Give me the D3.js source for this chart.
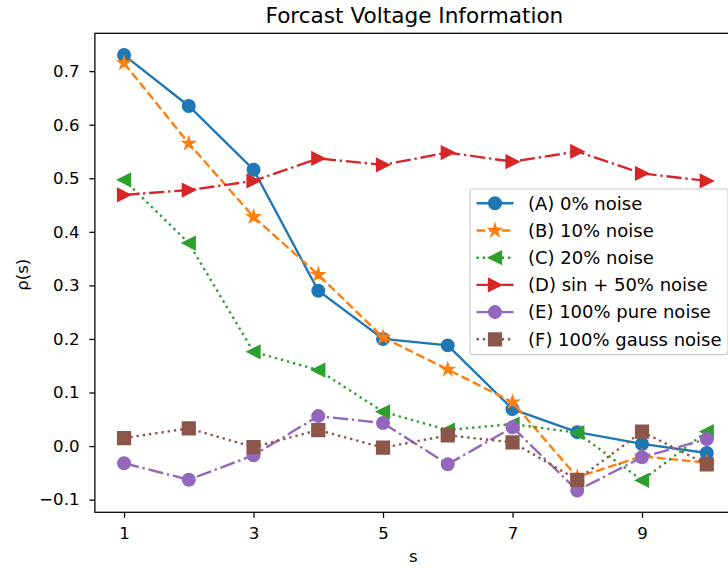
<!DOCTYPE html>
<html>
<head>
<meta charset="utf-8">
<script src="https://cdn.jsdelivr.net/npm/d3@7"></script>
<style>
  body { margin: 0; background: #fff; }
  text { font-family: "DejaVu Sans", sans-serif; fill: #000; }
</style>
</head>
<body>
<svg id="chart" width="728" height="568"></svg>
<script>
// values
const steps = [1, 2, 3, 4, 5, 6, 7, 8, 9, 10];
const noise0 = [0.730, 0.635, 0.516, 0.290, 0.200, 0.188, 0.069, 0.026, 0.004, -0.013];
const noise10 = [0.715, 0.565, 0.428, 0.320, 0.203, 0.143, 0.082, -0.058, -0.019, -0.031];
const noise20 = [0.497, 0.379, 0.176, 0.142, 0.064, 0.030, 0.041, 0.025, -0.064, 0.027];
const sinNoise50 = [0.469, 0.478, 0.495, 0.537, 0.525, 0.548, 0.531, 0.550, 0.509, 0.495];
const pureNoise = [-0.032, -0.063, -0.017, 0.056, 0.043, -0.034, 0.035, -0.083, -0.021, 0.013];
const gaussNoise = [0.015, 0.033, -0.002, 0.030, -0.003, 0.020, 0.007, -0.063, 0.027, -0.034];
const labels = ["(A) 0% noise", "(B) 10% noise", "(C) 20% noise",
                "(D) sin + 50% noise", "(E) 100% pure noise", "(F) 100% gauss noise"];
const xTicks = [1, 3, 5, 7, 9];
const yTicks = [-0.1, 0, 0.1, 0.2, 0.3, 0.4, 0.5, 0.6, 0.7];

const svg = d3.select("#chart");
const pt = 1.583; // px per point
const tickFont = 16.6, legendFont = 18, titleFont = 21.6;

// axes box (right side runs off the picture like the original)
const box = {left: 94.9, top: 33.3, bottom: 512.3, right: 735.9};

const series = [
  {vals: noise0, color: "#1f77b4", dash: null, marker: "circle"},
  {vals: noise10, color: "#ff7f0e", dash: [5.55, 2.4], marker: "star"},
  {vals: noise20, color: "#2ca02c", dash: [1.5, 2.475], marker: "tleft"},
  {vals: sinNoise50, color: "#d62728", dash: [9.6, 2.4, 1.5, 2.4], marker: "tright"},
  {vals: pureNoise, color: "#9467bd", dash: [9.6, 2.4, 1.5, 2.4], marker: "circle"},
  {vals: gaussNoise, color: "#8c564b", dash: [1.5, 2.475], marker: "square"}
];

const xScale = d3.scaleLinear()
  .domain([0.55, 10.45])
  .range([box.left, box.right]);

const allVals = series.flatMap(s => s.vals);
const [lo, hi] = d3.extent(allVals);
const padY = (hi - lo) * 0.05;
const yScale = d3.scaleLinear()
  .domain([lo - padY, hi + padY])
  .range([box.bottom, box.top]);

const ms = 8 * pt;
const markerPath = m => {
  const s = ms / 2;
  if (m === "circle") return d3.symbol(d3.symbolCircle, Math.PI * (s * 0.98) ** 2)();
  if (m === "square") return `M${-s},${-s}H${s}V${s}H${-s}Z`;
  if (m === "tleft") return `M${-s},0L${s},${-s}L${s},${s}Z`;
  if (m === "tright") return `M${s},0L${-s},${-s}L${-s},${s}Z`;
  if (m === "star") {
    const pts = [];
    for (let i = 0; i < 10; i++) {
      const r = i % 2 === 0 ? s : s * 0.381966;
      const a = -Math.PI / 2 + i * Math.PI / 5;
      pts.push([r * Math.cos(a), r * Math.sin(a)]);
    }
    return "M" + pts.map(p => p.join(",")).join("L") + "Z";
  }
};

svg.append("clipPath").attr("id", "plotclip")
  .append("rect").attr("x", box.left).attr("y", box.top)
  .attr("width", box.right - box.left).attr("height", box.bottom - box.top);

const plot = svg.append("g").attr("clip-path", "url(#plotclip)");
const line = d3.line().x((d, i) => xScale(steps[i])).y(d => yScale(d));

series.forEach(s => {
  const g = plot.append("g");
  g.append("path")
    .attr("d", line(s.vals))
    .attr("fill", "none")
    .attr("stroke", s.color)
    .attr("stroke-width", 1.5 * pt)
    .attr("stroke-dasharray", s.dash ? s.dash.map(v => v * pt).join(",") : null);
  g.selectAll("path.mk")
    .data(s.vals)
    .enter()
    .append("path")
    .attr("class", "mk")
    .attr("d", markerPath(s.marker))
    .attr("transform", (d, i) => `translate(${xScale(steps[i])},${yScale(d)})`)
    .attr("fill", s.color)
    .attr("stroke", s.color)
    .attr("stroke-width", 1 * pt);
});

// axes
const xAxis = d3.axisBottom(xScale).tickValues(xTicks).tickSize(3.5 * pt).tickPadding(9.3)
  .tickFormat(d3.format("d"));
const yAxis = d3.axisLeft(yScale).tickValues(yTicks).tickSize(3.5 * pt).tickPadding(9.9)
  .tickFormat(d3.format(".1f"));

const gx = svg.append("g").attr("transform", `translate(0,${box.bottom})`).call(xAxis);
const gy = svg.append("g").attr("transform", `translate(${box.left},0)`).call(yAxis);
[gx, gy].forEach(g => {
  g.select(".domain").remove();
  g.selectAll(".tick line").attr("stroke", "#000").attr("stroke-width", 0.8 * pt);
  g.selectAll(".tick text").attr("font-size", tickFont).attr("fill", "#000")
    .style("font-family", "DejaVu Sans");
});

svg.append("rect")
  .attr("x", box.left).attr("y", box.top)
  .attr("width", box.right - box.left).attr("height", box.bottom - box.top)
  .attr("fill", "none").attr("stroke", "#000").attr("stroke-width", 0.8 * pt);

// labels
const midX = (box.left + box.right) / 2;
svg.append("text").attr("x", midX - 1).attr("y", 22.7)
  .attr("text-anchor", "middle").attr("font-size", titleFont)
  .text("Forcast Voltage Information");
svg.append("text").attr("x", midX - 2).attr("y", 562.3)
  .attr("text-anchor", "middle").attr("font-size", tickFont).text("s");
svg.append("text")
  .attr("transform", `translate(28,${(box.top + box.bottom) / 2 + 2}) rotate(-90)`)
  .attr("text-anchor", "middle").attr("font-size", tickFont).text("ρ(s)");

// legend
const legX = 470, legY = 189, rowH = 27.2;
const leg = svg.append("g");
const frame = leg.append("rect")
  .attr("x", legX).attr("y", legY).attr("rx", 3).attr("ry", 3)
  .attr("fill", "#fff").attr("fill-opacity", 0.8)
  .attr("stroke", "#cccccc").attr("stroke-width", 1.2);
let maxEnd = 0;
series.forEach((s, i) => {
  const cy = legY + 14.3 + i * rowH;
  leg.append("line")
    .attr("x1", legX + 6.5).attr("x2", legX + 43.5)
    .attr("y1", cy).attr("y2", cy)
    .attr("stroke", s.color).attr("stroke-width", 1.5 * pt)
    .attr("stroke-dasharray", s.dash ? s.dash.map(v => v * pt).join(",") : null);
  leg.append("path")
    .attr("d", markerPath(s.marker))
    .attr("transform", `translate(${legX + 25},${cy})`)
    .attr("fill", s.color).attr("stroke", s.color).attr("stroke-width", 1 * pt);
  const t = leg.append("text")
    .attr("x", legX + 58).attr("y", cy + 6.3)
    .attr("font-size", legendFont).text(labels[i]);
  maxEnd = Math.max(maxEnd, legX + 58 + t.node().getComputedTextLength());
});
frame.attr("width", maxEnd + 6.5 - legX).attr("height", rowH * 6 + 2.5);
</script>
</body>
</html>
